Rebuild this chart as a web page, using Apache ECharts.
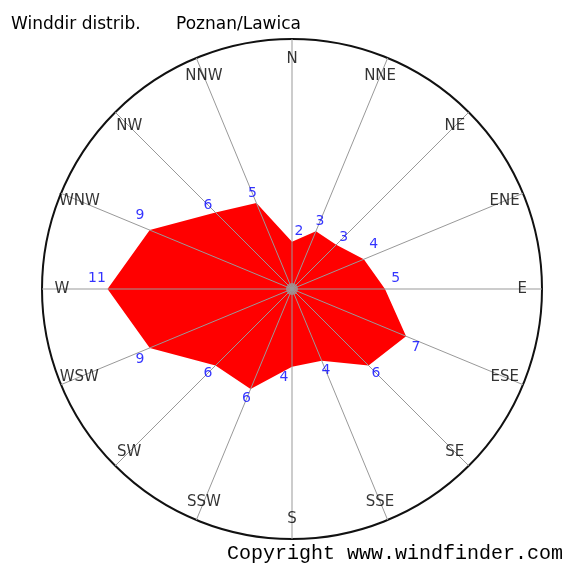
<!DOCTYPE html>
<html>
<head>
<meta charset="utf-8">
<title>Winddir distrib. Poznan/Lawica</title>
<script src="https://cdn.jsdelivr.net/npm/echarts@6/dist/echarts.min.js"></script>
<style>
  html, body { margin: 0; padding: 0; background: #fff; }
  #chart { width: 566px; height: 565px; }
</style>
</head>
<body>
<div id="chart"></div>
<script>
// wind directions, clockwise from north
const directions = ["N", "NNE", "NE", "ENE", "E", "ESE", "SE", "SSE",
                    "S", "SSW", "SW", "WSW", "W", "WNW", "NW", "NNW"];
// share of wind from each direction (%)
const frequency = [2, 3, 3, 4, 5, 7, 6, 4, 4, 6, 6, 9, 11, 9, 6, 5];

const center = [292, 289];
const radius = 250;
const rMin = -1.1;
const rMax = 15.3;

// radar indicators run counter-clockwise, so feed them N, NNW, NW, ...
const radarOrder = directions.map((d, i) => (16 - i) % 16);

// nudge value labels off the spokes they sit on
function labelShift(i) {
  const a = i * Math.PI / 8;
  const s = Math.sin(a), c = Math.cos(a);
  if (Math.abs(s) > 0.9) return [0, c < -0.1 ? 7 : -11];
  if (Math.abs(c) > 0.99) return [c > 0 ? 7 : -8, 0];
  return [0, 0];
}

const chart = echarts.init(document.getElementById("chart"));

const option = {
  animation: false,
  backgroundColor: "#fff",
  title: [
    {
      text: "Winddir distrib.",
      left: 11, top: 16, padding: 0,
      textStyle: { fontFamily: "DejaVu Sans", fontSize: 17, fontWeight: "normal", color: "#000" }
    },
    {
      text: "Poznan/Lawica",
      left: 176, top: 16, padding: 0,
      textStyle: { fontFamily: "DejaVu Sans", fontSize: 17, fontWeight: "normal", color: "#000" }
    },
    {
      text: "Copyright www.windfinder.com",
      right: 3, bottom: 1, padding: 0,
      textStyle: { fontFamily: "Liberation Mono", fontSize: 20, fontWeight: "normal", color: "#000" }
    }
  ],
  radar: {
    center: center,
    radius: radius,
    startAngle: 90,
    shape: "circle",
    splitNumber: 1,
    indicator: radarOrder.map(i => ({ name: directions[i], min: rMin, max: rMax })),
    axisName: { show: false },
    axisLine: { show: false },
    splitLine: { show: true, lineStyle: { color: "#111", width: 2 } },
    splitArea: { show: false },
    axisTick: { show: false },
    axisLabel: { show: false }
  },
  polar: { center: center, radius: radius },
  angleAxis: {
    type: "category",
    data: directions,
    startAngle: 90,
    clockwise: true,
    boundaryGap: false,
    z: 5,
    axisLine: { show: false },
    axisTick: { show: false },
    axisLabel: { show: false },
    splitLine: { show: true, lineStyle: { color: "#999", width: 1 } }
  },
  radiusAxis: {
    type: "value",
    min: rMin,
    max: rMax,
    axisLine: { show: false },
    axisTick: { show: false },
    axisLabel: { show: false },
    splitLine: { show: false }
  },
  series: [
    {
      type: "radar",
      silent: true,
      symbol: "none",
      z: 2,
      lineStyle: { width: 0, opacity: 0 },
      areaStyle: { color: "#ff0000", opacity: 1 },
      data: [{ value: radarOrder.map(i => frequency[i]) }]
    },
    {
      // value labels along the spokes
      type: "scatter",
      coordinateSystem: "polar",
      silent: true,
      symbolSize: 0,
      z: 6,
      data: frequency.map((v, i) => ({
        value: [v + 0.7, directions[i]],
        label: { offset: labelShift(i) }
      })),
      label: {
        show: true,
        position: "inside",
        formatter: p => String(frequency[p.dataIndex]),
        fontFamily: "DejaVu Sans",
        fontSize: 14,
        color: "#0000ff"
      }
    },
    {
      // direction names inside the rim
      type: "scatter",
      coordinateSystem: "polar",
      silent: true,
      symbolSize: 0,
      z: 6,
      data: directions.map(d => [14.0, d]),
      label: {
        show: true,
        position: "inside",
        formatter: p => directions[p.dataIndex],
        fontFamily: "DejaVu Sans",
        fontSize: 15,
        color: "#000"
      }
    },
    {
      // hub
      type: "scatter",
      coordinateSystem: "polar",
      silent: true,
      symbol: "circle",
      symbolSize: 12,
      z: 10,
      itemStyle: { color: "#999" },
      data: [[rMin, directions[0]]]
    }
  ]
};

chart.setOption(option);
window.addEventListener("resize", () => chart.resize());
</script>
</body>
</html>
